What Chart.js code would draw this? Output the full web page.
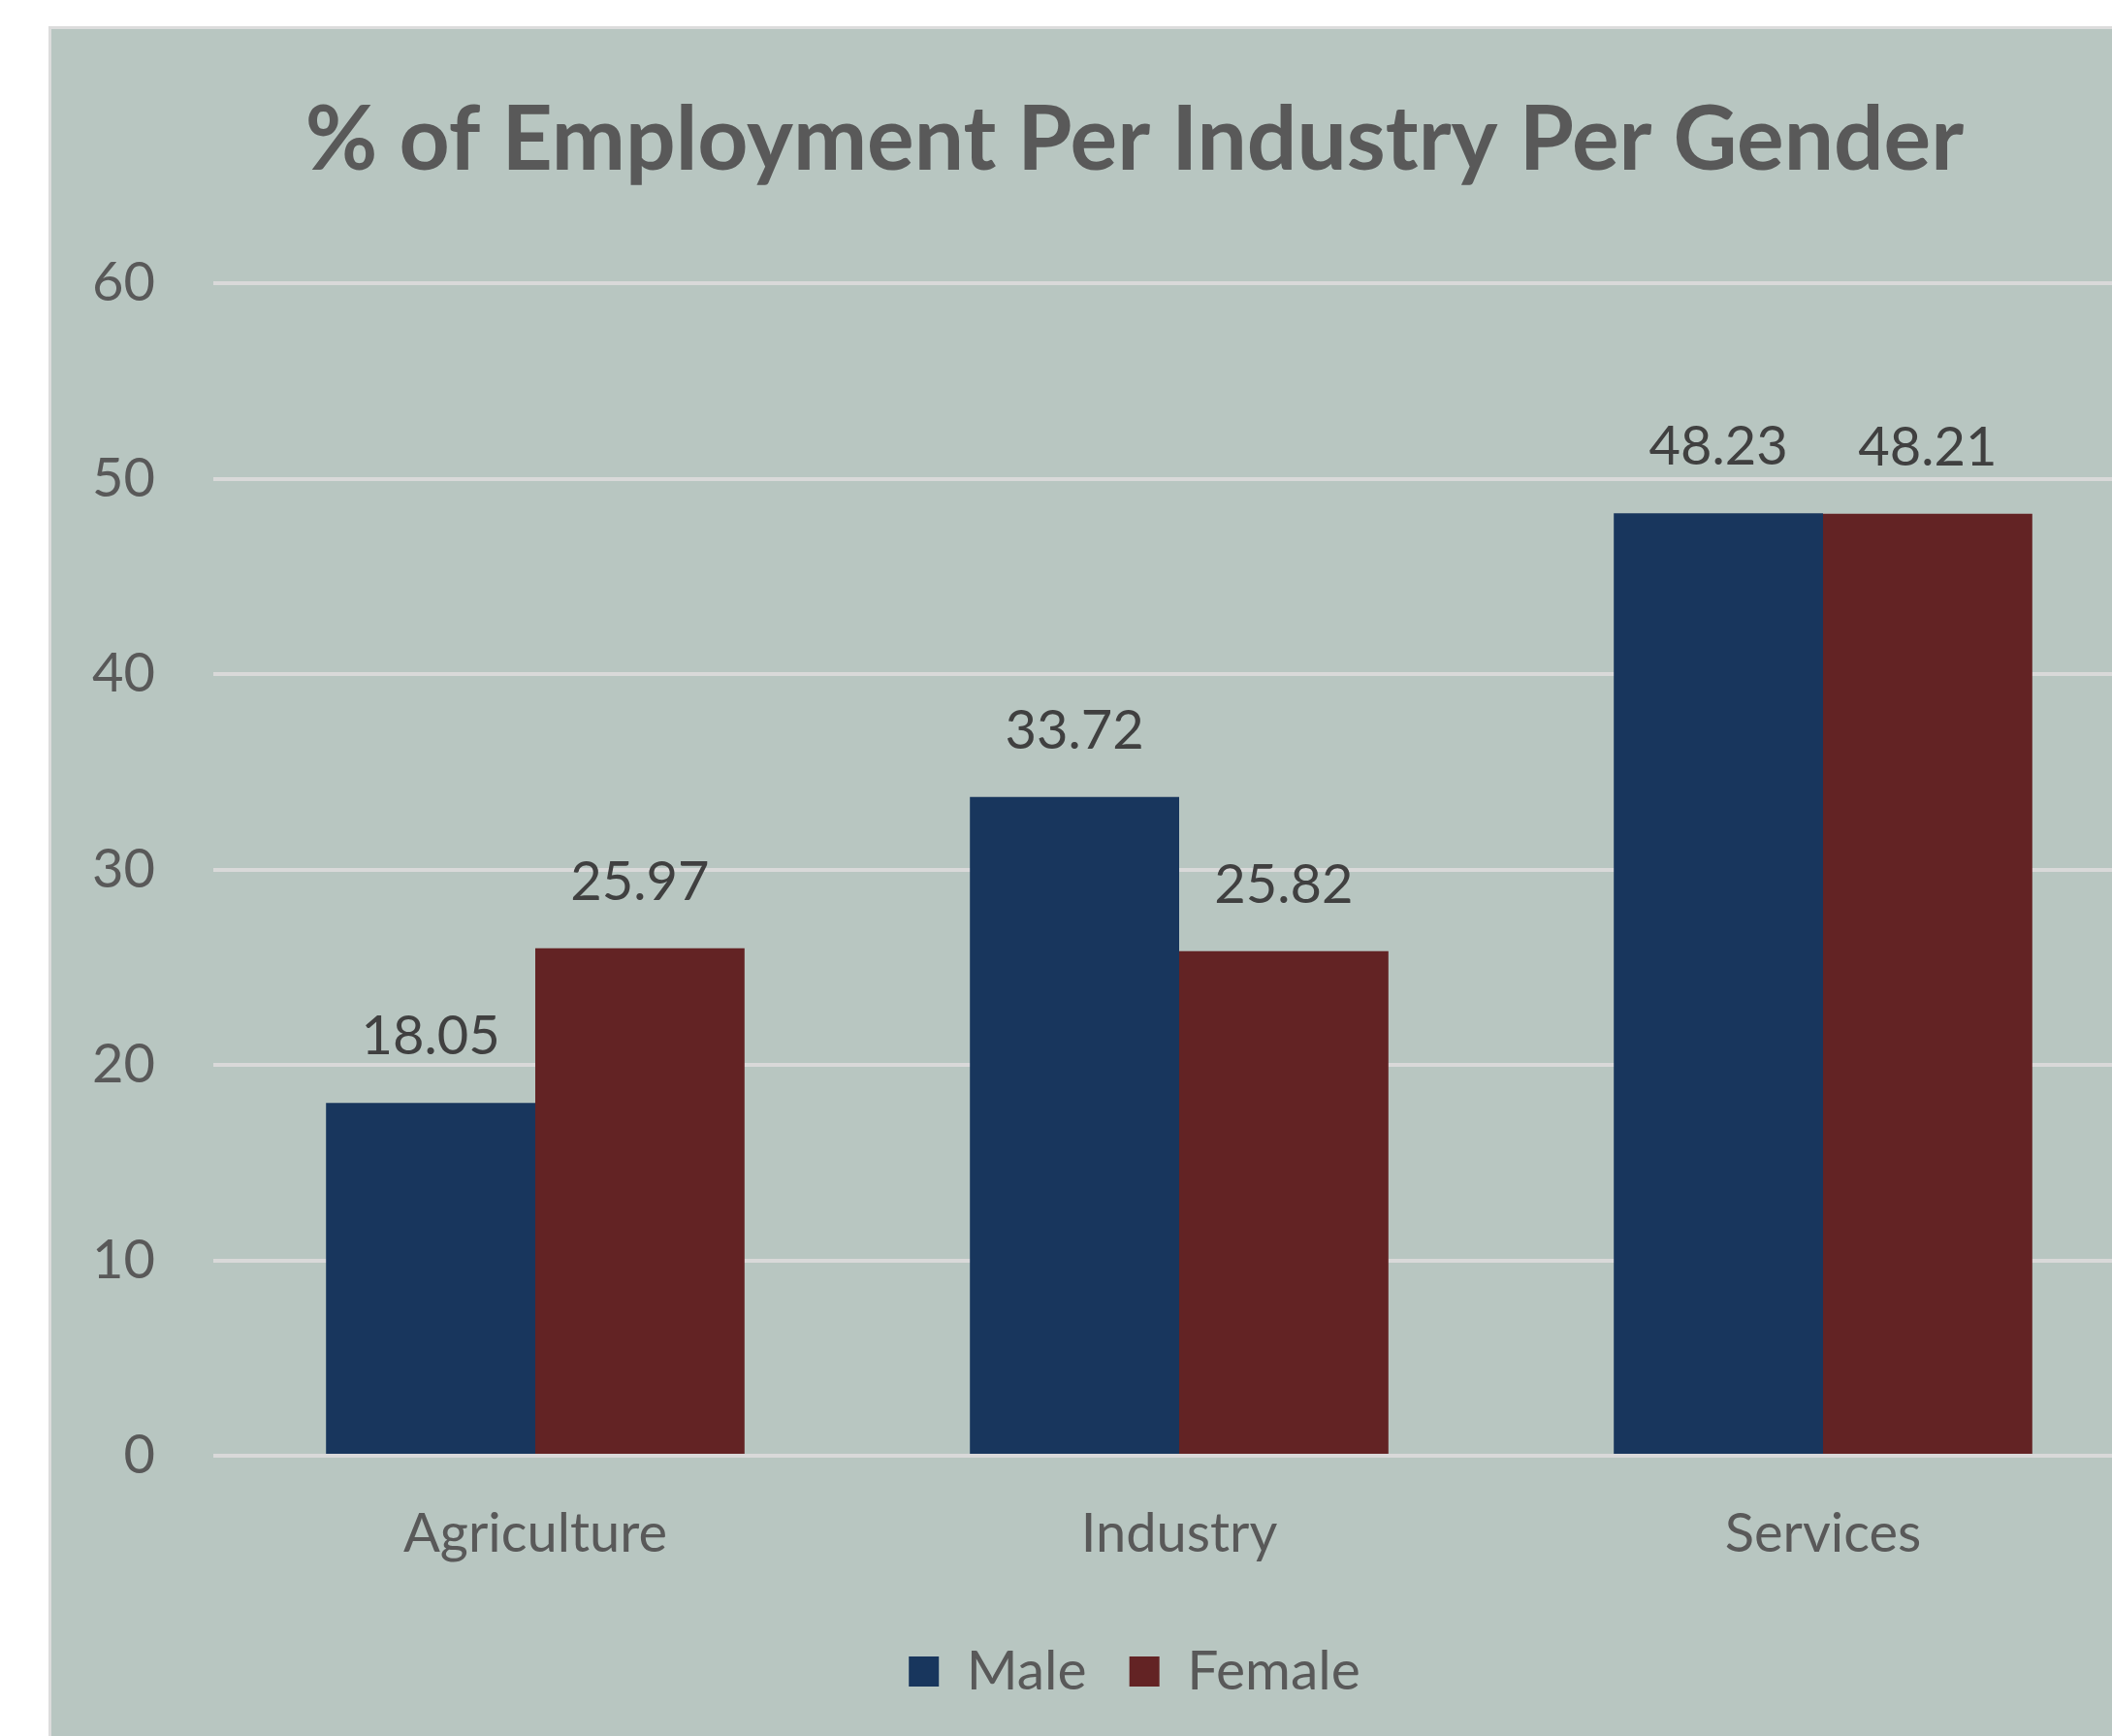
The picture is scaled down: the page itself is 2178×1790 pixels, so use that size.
<!DOCTYPE html>
<html>
<head>
<meta charset="utf-8">
<script src="https://cdn.jsdelivr.net/npm/chart.js@4/dist/chart.umd.min.js"></script>
<style>
  html, body { margin: 0; padding: 0; background: #ffffff; overflow: hidden; }
  #panel {
    position: absolute; left: 50px; top: 27px;
    width: 2330px; height: 1800px;
    background: #b8c6c1;
    border-left: 3px solid #dcdcdc;
    border-top: 3px solid #dcdcdc;
  }
  #chart { display: block; }
</style>
</head>
<body>
<div id="panel"><canvas id="chart" width="2234" height="1732"></canvas></div>
<script>
const categories = ['Agriculture', 'Industry', 'Services'];
const maleValues = [18.05, 33.72, 48.23];
const femaleValues = [25.97, 25.82, 48.21];
const yTicks = [0, 10, 20, 30, 40, 50, 60];

Chart.defaults.font.family = 'Lato, "Open Sans", sans-serif';

// draws the value above each bar, like excel data labels
const valueLabels = {
  id: 'valueLabels',
  afterDatasetsDraw(chart) {
    const ctx = chart.ctx;
    ctx.save();
    ctx.font = '56px Lato';
    ctx.fillStyle = '#404040';
    ctx.textAlign = 'center';
    ctx.textBaseline = 'middle';
    chart.data.datasets.forEach((ds, i) => {
      chart.getDatasetMeta(i).data.forEach((bar, j) => {
        ctx.fillText(ds.data[j].toFixed(2), bar.x, bar.y - 68);
      });
    });
    ctx.restore();
  }
};

const ctx = document.getElementById('chart');

new Chart(ctx, {
  type: 'bar',
  data: {
    labels: categories,
    datasets: [
      {
        label: 'Male',
        data: maleValues,
        backgroundColor: '#18365d',
        borderWidth: 0
      },
      {
        label: 'Female',
        data: femaleValues,
        backgroundColor: '#632324',
        borderWidth: 0
      }
    ]
  },
  plugins: [valueLabels],
  options: {
    responsive: false,
    animation: false,
    layout: { padding: 0 },
    datasets: {
      bar: { categoryPercentage: 0.65, barPercentage: 1.0 }
    },
    plugins: {
      tooltip: { enabled: false },
      title: {
        display: true,
        text: '% of Employment Per Industry Per Gender',
        color: '#595959',
        padding: { top: 61, bottom: 92 },
        font: { size: 91, weight: 'bold', lineHeight: 1.2 }
      },
      legend: {
        position: 'bottom',
        labels: {
          color: '#595959',
          boxWidth: 31,
          boxHeight: 31,
          padding: 44,
          font: { size: 57 }
        }
      }
    },
    scales: {
      x: {
        grid: { display: false },
        border: { display: false },
        ticks: { color: '#595959', padding: 39, font: { size: 56 } },
        afterFit(scale) { scale.height = 150; }
      },
      y: {
        min: 0,
        max: 60,
        afterBuildTicks(scale) { scale.ticks = yTicks.map(v => ({ value: v })); },
        grid: { color: '#d9d9d9', lineWidth: 4, drawTicks: false },
        border: { display: false },
        ticks: { color: '#595959', padding: 60, font: { size: 56 } },
        afterFit(scale) { scale.width = 167; }
      },
      // empty right margin so the plot runs off the right edge like the original crop
      yRight: {
        position: 'right',
        min: 0,
        max: 60,
        grid: { display: false },
        border: { display: false },
        ticks: { display: false },
        afterFit(scale) { scale.width = 75; }
      }
    }
  }
});
</script>
</body>
</html>
